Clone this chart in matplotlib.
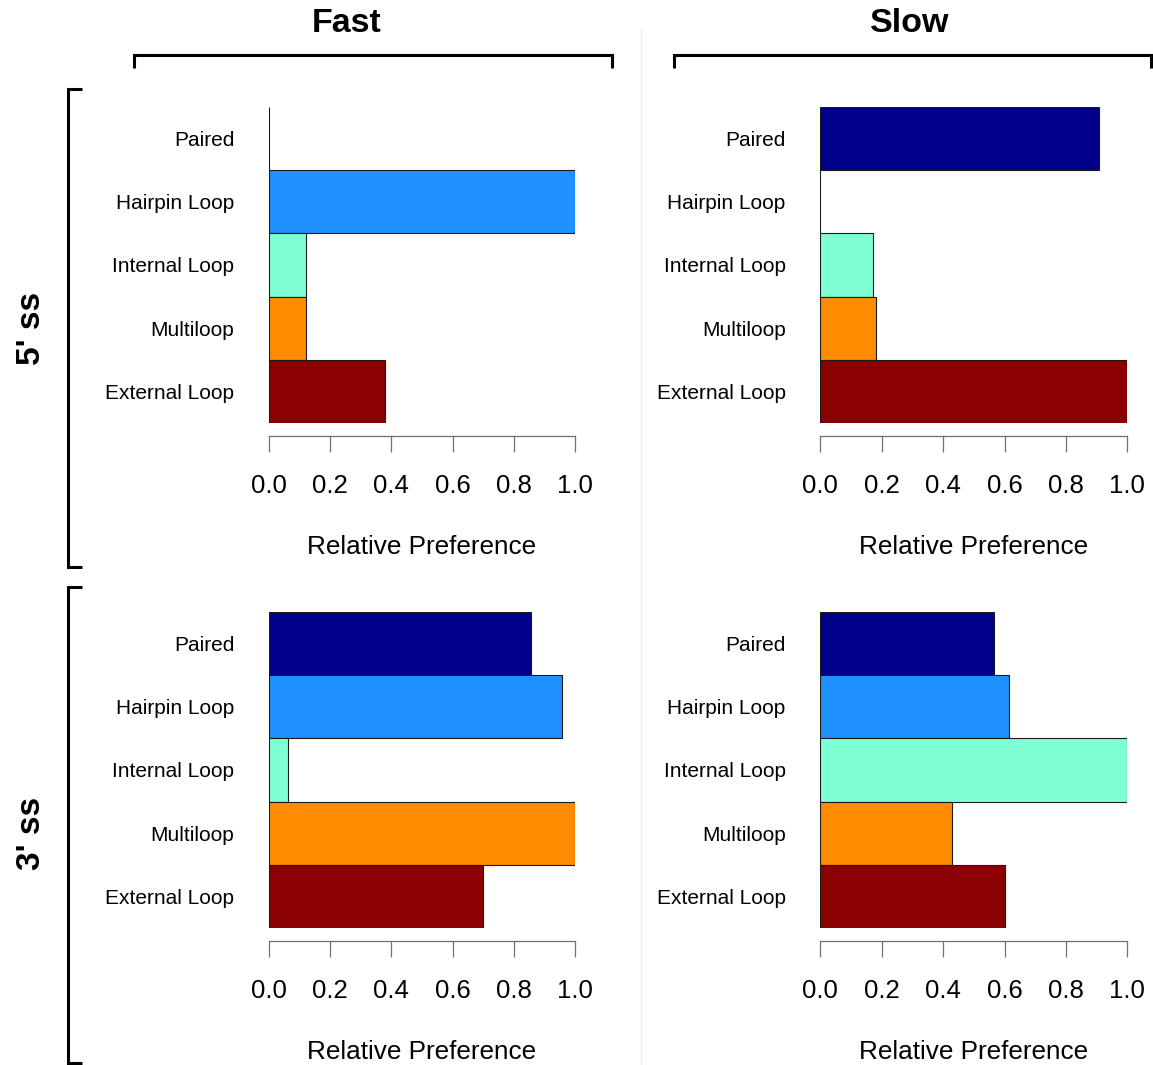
import matplotlib
matplotlib.use("Agg")
import matplotlib.pyplot as plt
from matplotlib.lines import Line2D

plt.rcParams['font.family'] = ['Liberation Sans', 'DejaVu Sans']

# Structure context categories (top to bottom) and their colours
categories = ["Paired", "Hairpin Loop", "Internal Loop", "Multiloop", "External Loop"]
colors = ["#00008B", "#1E90FF", "#7FFFD4", "#FF8C00", "#8B0000"]

# Relative preference per splice site and kinetic class
fast_5ss = [0.0, 1.0, 0.12, 0.12, 0.38]
slow_5ss = [0.907, 0.0, 0.171, 0.182, 1.0]
fast_3ss = [0.857, 0.956, 0.063, 1.0, 0.70]
slow_3ss = [0.567, 0.615, 1.0, 0.428, 0.60]

x_ticks = [0.0, 0.2, 0.4, 0.6, 0.8, 1.0]
x_label = "Relative Preference"
col_titles = ["Fast", "Slow"]
row_titles = ["5' ss", "3' ss"]

W, H = 1153, 1065
fig = plt.figure(figsize=(W / 100, H / 100), dpi=100)


def fx(px):
    return px / W


def fy(py):
    return 1 - py / H


def panel(x0, x1, y0, y1, values, label_y):
    ax = fig.add_axes([fx(x0), fy(y1), fx(x1) - fx(x0), (y1 - y0) / H])
    pos = list(range(len(categories)))
    ax.barh(pos, values, height=1.0, left=0, color=colors,
            edgecolor="#1a1a1a", linewidth=0.8)
    ax.set_xlim(0, 1)
    ax.set_ylim(len(categories) - 0.5, -0.5)
    for s in ("left", "top", "right"):
        ax.spines[s].set_visible(False)
    ax.spines["bottom"].set_position(("outward", 9.4))
    ax.spines["bottom"].set_bounds(0, 1)
    ax.spines["bottom"].set_color("#707070")
    ax.spines["bottom"].set_linewidth(0.9)
    ax.set_xticks(x_ticks)
    ax.set_xticklabels([f"{t:.1f}" for t in x_ticks])
    ax.tick_params(axis="x", length=11.5, width=0.9, color="#707070",
                   pad=16, labelsize=18.5)
    ax.set_yticks(pos)
    ax.set_yticklabels(categories)
    ax.tick_params(axis="y", length=0, pad=25, labelsize=15)
    ax.patch.set_alpha(0)
    fig.text(fx((x0 + x1) / 2), fy(label_y), x_label, ha="center",
             va="center", fontsize=18.8)
    return ax


panel(269, 575, 107, 423, fast_5ss, 547)
panel(820.3, 1127.3, 107, 423, slow_5ss, 547)
panel(269, 575, 612, 928, fast_3ss, 1052)
panel(820.3, 1127.3, 612, 928, slow_3ss, 1052)


def line(xs, ys, **kw):
    fig.add_artist(Line2D([fx(x) for x in xs], [fy(y) for y in ys],
                          transform=fig.transFigure, **kw))


# faint column divider
line([641, 641], [28, 1065], color="#f0f0f0", linewidth=1.0)

# column brackets
bk = dict(color="black", linewidth=2.2, solid_capstyle="butt",
          solid_joinstyle="miter")
line([134, 134, 612, 612], [68, 55, 55, 68], **bk)
line([674, 674, 1151, 1151], [68, 55, 55, 68], **bk)
# row brackets
line([82, 68, 68, 82], [89, 89, 567, 567], **bk)
line([82, 68, 68, 82], [587, 587, 1063, 1063], **bk)

fig.text(fx(347), fy(23), col_titles[0], ha="center", va="center",
         fontsize=24.5, fontweight="bold")
fig.text(fx(910), fy(23), col_titles[1], ha="center", va="center",
         fontsize=24.5, fontweight="bold")
fig.text(fx(31), fy(328), row_titles[0], ha="center", va="center",
         fontsize=24, fontweight="bold", rotation=90)
fig.text(fx(31), fy(833), row_titles[1], ha="center", va="center",
         fontsize=24, fontweight="bold", rotation=90)

fig.savefig("out.png", dpi=100, facecolor="white")
